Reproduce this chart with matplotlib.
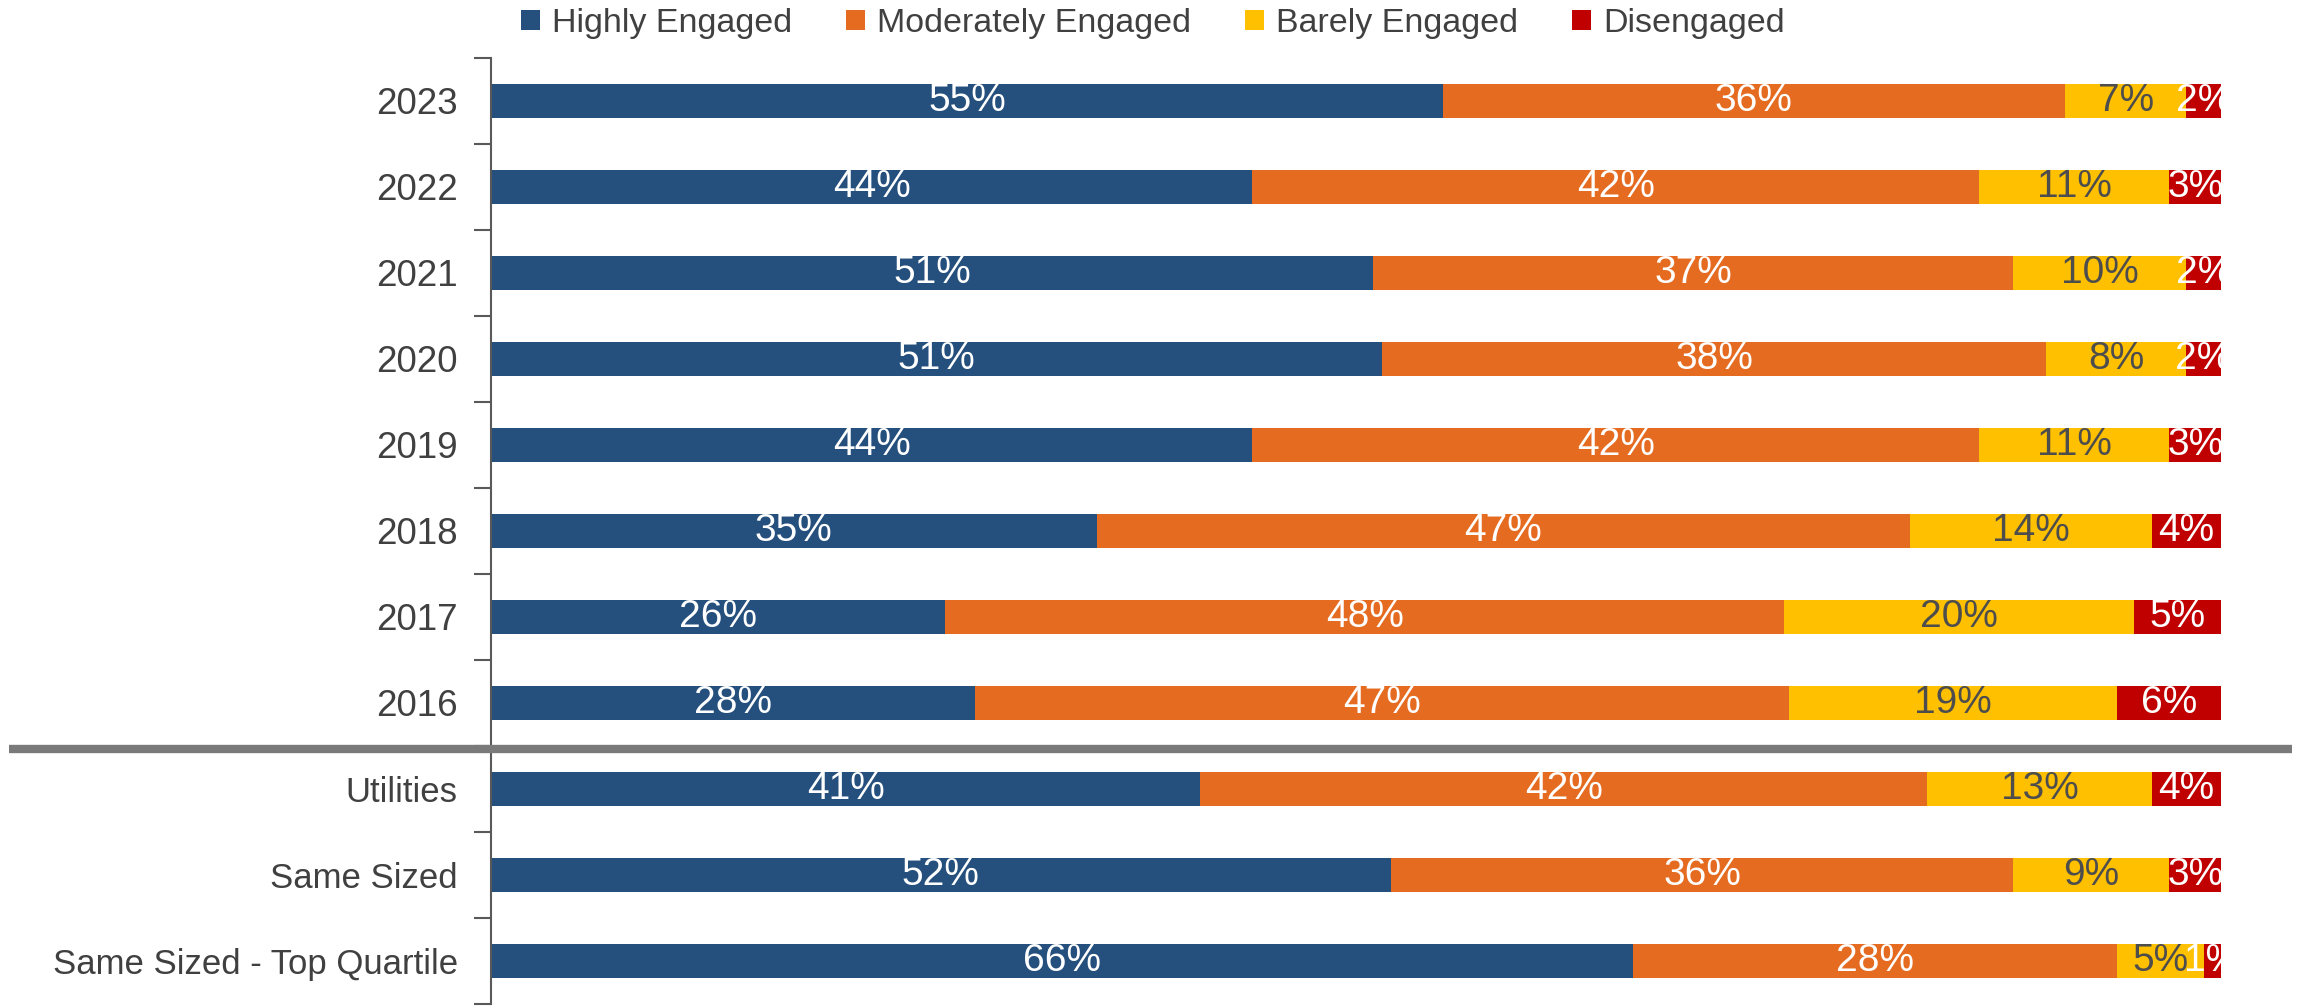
import matplotlib
matplotlib.use("Agg")
import matplotlib.pyplot as plt
import numpy as np
from matplotlib.ticker import FixedLocator
import matplotlib.transforms as mtransforms

plt.rcParams['font.family'] = ['Liberation Sans', 'DejaVu Sans']

categories = ["2023", "2022", "2021", "2020", "2019", "2018", "2017", "2016",
              "Utilities", "Same Sized", "Same Sized - Top Quartile"]
series_names = ["Highly Engaged", "Moderately Engaged", "Barely Engaged", "Disengaged"]
highly = [55, 44, 51, 51, 44, 35, 26, 28, 41, 52, 66]
moderately = [36, 42, 37, 38, 42, 47, 48, 47, 42, 36, 28]
barely = [7, 11, 10, 8, 11, 14, 20, 19, 13, 9, 5]
disengaged = [2, 3, 2, 2, 3, 4, 5, 6, 4, 3, 1]

colors = ["#254F7C", "#E56B21", "#FFC000", "#C00000"]
label_colors = ["white", "white", "#4D4D4D", "white"]

data = np.array([highly, moderately, barely, disengaged], dtype=float)
totals = data.sum(axis=0)
shares = data / totals * 100

fig = plt.figure(figsize=(23.1, 10.06), dpi=100)
ax = fig.add_axes([0.2126, 0.002, 0.7489, 0.9404])

y = np.arange(len(categories))
left = np.zeros(len(categories))
for i, name in enumerate(series_names):
    bars = ax.barh(y, shares[i], left=left, height=0.40, color=colors[i],
                   label=name, edgecolor='none')
    ax.bar_label(bars, labels=[f"{int(v)}%" for v in data[i]], label_type='center',
                 color=label_colors[i], fontsize=28)
    left += shares[i]

ax.set_xlim(0, 100)
ax.set_ylim(len(categories) - 0.5, -0.5)
ax.set_yticks(y)
ax.set_yticklabels(categories, color="#404040")
for lbl in ax.get_yticklabels():
    lbl.set_fontsize(26.5 if lbl.get_text().isdigit() else 25)
ax.yaxis.set_minor_locator(FixedLocator(np.arange(-0.5, len(categories), 1.0)))
ax.tick_params(axis='y', which='major', length=0, pad=24)
ax.tick_params(axis='y', which='minor', length=12, width=1.5, color="#595959", direction='out')
ax.set_xticks([])
for s in ['top', 'right', 'bottom']:
    ax.spines[s].set_visible(False)
ax.spines['left'].set_color("#595959")
ax.spines['left'].set_linewidth(1.5)

# separator between year rows and comparison rows
trans = mtransforms.blended_transform_factory(fig.transFigure, ax.transData)
sep_y = 7.53
ax.plot([0.004, 0.992], [sep_y, sep_y], transform=trans, color="#7A7A7A",
        linewidth=6, clip_on=False, solid_capstyle='butt', zorder=5)

leg = fig.legend(loc='center', bbox_to_anchor=(0.499, 0.9765), ncol=4, frameon=False,
                 fontsize=24.5, handlelength=0.55, handleheight=0.55, handletextpad=0.35,
                 columnspacing=1.6, labelcolor="#404040")

fig.savefig("out.png", dpi=100)
